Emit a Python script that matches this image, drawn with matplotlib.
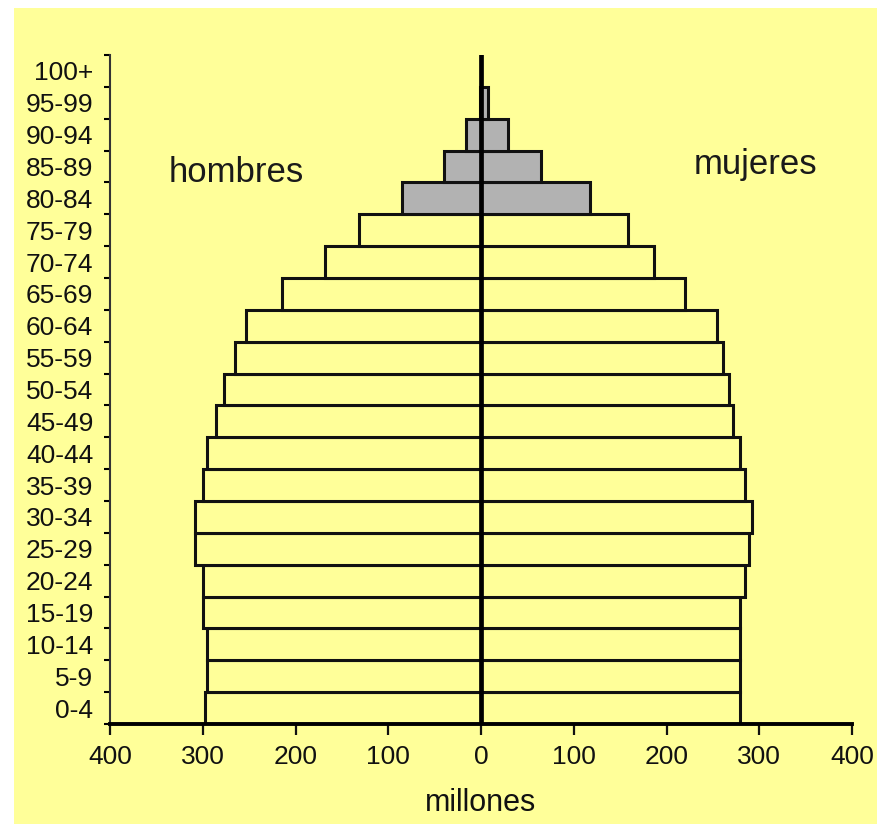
import matplotlib.pyplot as plt
import numpy as np

plt.rcParams['font.family'] = ['Liberation Sans', 'DejaVu Sans']

# === Data (millions) ===
age_groups = ["0-4", "5-9", "10-14", "15-19", "20-24", "25-29", "30-34",
              "35-39", "40-44", "45-49", "50-54", "55-59", "60-64", "65-69",
              "70-74", "75-79", "80-84", "85-89", "90-94", "95-99", "100+"]
hombres = [298, 295, 295, 300, 300, 308, 308, 300, 295, 286, 277,
           265, 253, 215, 168, 131, 85, 40, 16, 1, 0]
mujeres = [279, 279, 279, 279, 285, 289, 292, 285, 279, 272, 267,
           261, 254, 220, 186, 158, 117, 65, 29, 8, 0]
old_groups = {"80-84", "85-89", "90-94", "95-99", "100+"}

yellow = "#ffff99"
grey = "#b2b2b2"

fig = plt.figure(figsize=(8.77, 8.24), dpi=100)
fig.patch.set_facecolor("white")
# yellow panel behind the chart
fig.patches.append(plt.Rectangle((14 / 877, 0), 1, 1 - 8 / 824,
                                 transform=fig.transFigure,
                                 facecolor=yellow, edgecolor="none", zorder=-5))

ax = fig.add_axes([110 / 877, 1 - 724 / 824, 742 / 877, 669 / 824])
ax.set_zorder(2)
ax.set_facecolor(yellow)

y = np.arange(len(age_groups))
colors = [grey if g in old_groups else yellow for g in age_groups]

ax.barh(y, [-v for v in hombres], height=1.0, color=colors,
        edgecolor="#111111", linewidth=2.2, zorder=2)
ax.barh(y, mujeres, height=1.0, color=colors,
        edgecolor="#111111", linewidth=2.2, zorder=2)
ax.axvline(0, color="black", linewidth=3.4, zorder=3)

ax.set_xlim(-400, 400)
ax.set_ylim(-0.5, len(age_groups) - 0.5)

ax.set_xticks(range(-400, 401, 100))
ax.set_xticklabels([str(abs(v)) for v in range(-400, 401, 100)])
ax.set_yticks(y)
ax.set_yticklabels(age_groups)
ax.set_yticks(np.arange(-0.5, len(age_groups), 1), minor=True)

ax.tick_params(axis="x", direction="out", length=8, width=1.6,
               labelsize=19, pad=7, colors="#111111")
ax.tick_params(axis="y", which="major", length=0, labelsize=19, pad=12,
               colors="#111111")
ax.tick_params(axis="y", which="minor", direction="out", length=4, width=1.5)

for s in ["top", "right"]:
    ax.spines[s].set_visible(False)
ax.spines["left"].set_linewidth(1.5)
ax.spines["left"].set_color("#333333")
ax.spines["bottom"].set_linewidth(2.8)
ax.spines["bottom"].set_zorder(4)

ax.set_xlabel("millones", fontsize=22, labelpad=14, color="#111111")

ax.text(-264, 16.8, "hombres", fontsize=25, ha="center", va="center",
        color="#1a1a1a")
ax.text(296, 17.05, "mujeres", fontsize=25, ha="center", va="center",
        color="#1a1a1a")

fig.savefig("out.png", dpi=100, facecolor=fig.get_facecolor())
